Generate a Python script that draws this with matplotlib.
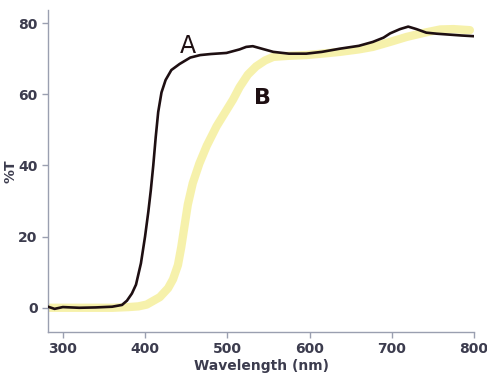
import matplotlib
matplotlib.use("Agg")
import matplotlib.pyplot as plt

# Curve A (black)
wl_a = [282, 290, 300, 320, 340, 360, 372, 378, 384, 389, 395, 400, 404, 407, 410, 413, 416, 420, 425, 432, 442, 455, 467, 480, 499, 515, 523, 531, 545, 556, 575, 596, 615, 637, 660, 677, 690, 698, 710, 720, 730, 742, 755, 767, 785, 800]
t_a = [0.3, -0.3, 0.2, 0.0, 0.1, 0.3, 0.8, 2.0, 4.0, 6.5, 12.5, 20.0, 27.0, 33.0, 40.0, 48.0, 55.0, 60.5, 64.0, 66.8, 68.5, 70.3, 71.0, 71.3, 71.6, 72.6, 73.3, 73.5, 72.6, 71.9, 71.4, 71.4, 71.9, 72.8, 73.6, 74.7, 75.9, 77.1, 78.3, 79.0, 78.3, 77.3, 77.0, 76.8, 76.5, 76.3]

# Curve B (yellow)
wl_b = [282, 300, 330, 360, 380, 392, 402, 418, 428, 434, 440, 444, 448, 452, 458, 466, 475, 487, 499, 507, 515, 525, 535, 546, 556, 575, 596, 615, 637, 660, 677, 698, 718, 740, 759, 775, 795]
t_b = [0.0, 0.0, 0.0, 0.0, 0.2, 0.4, 0.9, 3.0, 5.5, 8.0, 12.0, 17.0, 23.0, 29.0, 35.0, 40.5, 45.5, 51.0, 55.5, 58.5, 62.0, 65.5, 67.8, 69.5, 70.5, 70.8, 71.0, 71.4, 71.9, 72.6, 73.3, 74.7, 76.1, 77.3, 78.2, 78.3, 78.0]

x_ticks = [300, 400, 500, 600, 700, 800]
y_ticks = [0, 20, 40, 60, 80]

fig = plt.figure(figsize=(4.87, 3.75), dpi=100)
ax = fig.add_axes([48 / 487, 0.1147, 426 / 487, 0.858])

ax.plot(wl_b, t_b, color="#f6f0a2", lw=6, alpha=0.9, solid_capstyle="round", zorder=2)
ax.plot(wl_a, t_a, color="#1e0f12", lw=1.9, zorder=3)

ax.text(452, 73.5, "A", fontsize=17, color="#1e0f12", ha="center", va="center")
ax.text(543, 59, "B", fontsize=16, fontweight="bold", color="#1e0f12", ha="center", va="center")

ax.set_xlim(282, 800)
ax.set_ylim(-6.8, 83.6)
ax.set_xticks(x_ticks)
ax.set_yticks(y_ticks)

tick_color = "#3c3c4e"
spine_color = "#9a9fb0"
for s in ["top", "right"]:
    ax.spines[s].set_visible(False)
for s in ["left", "bottom"]:
    ax.spines[s].set_color(spine_color)
    ax.spines[s].set_linewidth(1.0)

ax.tick_params(axis="both", direction="out", length=4, width=1, color=spine_color,
               labelcolor=tick_color, labelsize=10)
for lab in ax.get_xticklabels() + ax.get_yticklabels():
    lab.set_fontweight("bold")

ax.set_xlabel("Wavelength (nm)", fontsize=10, fontweight="bold", color=tick_color, labelpad=2)
ax.set_ylabel("%T", fontsize=10, fontweight="bold", color=tick_color)
ax.yaxis.set_label_coords(-0.072, 0.5)

fig.savefig("out.png", dpi=100, facecolor="white")
